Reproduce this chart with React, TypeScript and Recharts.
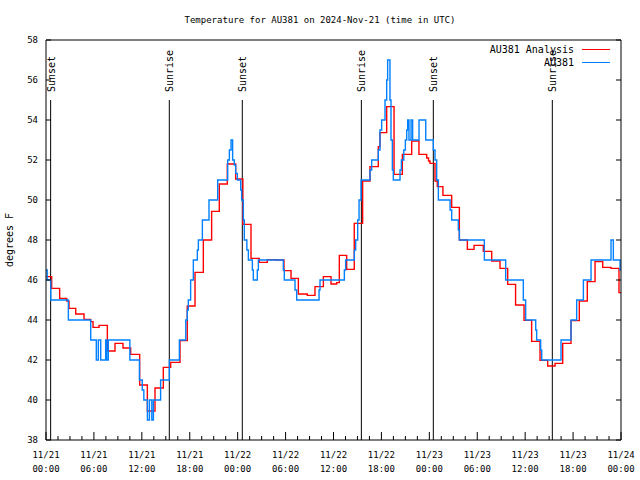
import React from 'react';
import { LineChart, Line, XAxis, YAxis, ReferenceLine, Legend } from 'recharts';

// hours since 2024-11-21 00:00 UTC, temperature in degrees F
const analysisSeries = [
  [0, 46.17], [0.71, 45.58], [1.71, 45.08], [2.6, 44.95], [2.88, 44.58], [3.72, 44.3], [4.76, 44.03],
  [5.59, 43.92], [5.89, 43.63], [6.64, 43.73], [7.68, 42.45], [8.64, 42.83], [9.64, 42.6], [10.6, 42.28],
  [11.73, 40.75], [12.69, 39.45], [13.65, 40.6], [14.69, 41.63], [15.61, 41.88], [16.78, 42.97],
  [17.69, 44.7], [18.66, 46.38], [19.7, 48.0], [20.74, 49.43], [21.7, 50.8], [22.7, 51.8], [23.75, 51.05],
  [24.65, 48.78], [25.67, 47.08], [26.71, 46.88], [27.71, 47.02], [28.76, 47.0], [29.8, 46.47],
  [30.68, 46.08], [31.6, 45.3], [32.72, 45.23], [33.68, 45.67], [34.73, 46.17], [35.69, 45.8],
  [36.4, 45.87], [36.73, 47.23], [37.65, 46.53], [38.6, 48.83], [39.65, 50.95], [40.57, 51.67],
  [41.61, 52.67], [41.82, 53.37], [42.66, 54.67], [43.58, 51.28], [44.62, 52.28], [45.79, 52.95],
  [46.7, 52.28], [47.67, 52.1], [47.9, 51.95], [48.08, 51.83], [48.71, 50.95], [49.0, 50.67],
  [49.7, 50.23], [50.8, 49.63], [51.76, 48.0], [52.76, 47.53], [53.6, 47.73], [54.76, 47.43],
  [55.81, 46.95], [56.85, 46.58], [57.81, 45.78], [58.8, 44.75], [59.86, 43.98], [60.81, 42.93],
  [61.86, 41.98], [62.82, 41.7], [63.74, 41.83], [64.7, 42.83], [65.74, 43.97], [66.78, 44.95],
  [67.78, 45.92], [68.75, 46.92], [69.71, 46.63], [70.75, 46.58], [71.75, 45.37], [72, 45.37],
];

const stationSeries = [
  [0, 46.5], [0.15, 46], [0.6, 45], [2.8, 44], [5.6, 43], [6.3, 42], [6.55, 43], [6.85, 42], [7.47, 43],
  [7.6, 42], [7.8, 43], [10.5, 42], [11.7, 41], [12.05, 40.5], [12.25, 40], [12.7, 39], [12.95, 40],
  [13.25, 39], [13.45, 40], [14.35, 41], [15.45, 42], [16.7, 43], [17.5, 44], [17.69, 44.5], [17.82, 45],
  [18.11, 46], [18.45, 47], [18.95, 47.5], [19.08, 48], [19.58, 49], [20.41, 50], [21.5, 51], [22.75, 52],
  [22.96, 52.5], [23.17, 53], [23.37, 52], [23.58, 51.75], [23.75, 51.33], [23.96, 51], [24.38, 50.5],
  [24.5, 50], [24.71, 49], [24.83, 48], [25.15, 47.5], [25.34, 47], [25.84, 46.5], [25.96, 46],
  [26.46, 46.5], [26.59, 47], [29.72, 46.5], [29.84, 46], [31.18, 45.5], [31.39, 45], [34.19, 45.5],
  [34.31, 46], [37.36, 46.5], [37.52, 47], [38.61, 47.5], [38.78, 48], [39.03, 49], [39.2, 50],
  [39.45, 51], [40.57, 51.5], [40.78, 52], [41.61, 52.5], [41.82, 53.5], [42.03, 54], [42.45, 55],
  [42.66, 56], [42.78, 57], [43.07, 55], [43.2, 53], [43.37, 51.5], [43.49, 51], [44.33, 51.5],
  [44.5, 52], [44.8, 52.5], [45.0, 53], [45.17, 53.5], [45.29, 54], [45.45, 53], [45.71, 54], [45.91, 53],
  [46.71, 54], [47.55, 53], [48.5, 52.5], [48.71, 52], [48.92, 51], [49.13, 50], [50.6, 49.5],
  [50.8, 49], [51.63, 48.5], [51.76, 48], [54.89, 47], [57.56, 46], [59.77, 45], [60.06, 44],
  [61.32, 43.5], [61.44, 43], [61.94, 42.5], [62.07, 42], [64.49, 43], [65.74, 44], [66.45, 45],
  [67.29, 46], [68.25, 47], [70.75, 48], [71.04, 47], [71.88, 46.5], [72, 46.5],
];

const seriesNames = ['AU381 Analysis', 'AU381'];

const eventHours = [0.58, 15.44, 24.58, 39.49, 48.5, 63.4];
const eventLabels = ['Sunset', 'Sunrise', 'Sunset', 'Sunrise', 'Sunset', 'Sunrise'];

const majorTicks = [0, 6, 12, 18, 24, 30, 36, 42, 48, 54, 60, 66, 72];
const tickDates = ['11/21', '11/21', '11/21', '11/21', '11/22', '11/22', '11/22', '11/22', '11/23', '11/23', '11/23', '11/23', '11/24'];
const tickTimes = ['00:00', '06:00', '12:00', '18:00', '00:00', '06:00', '12:00', '18:00', '00:00', '06:00', '12:00', '18:00', '00:00'];
const tempTicks = [38, 40, 42, 44, 46, 48, 50, 52, 54, 56, 58];

const FONT = '"DejaVu Sans Mono", monospace';

const analysisData = analysisSeries.map(([t, v]) => ({ t, v }));
const stationData = stationSeries.map(([t, v]) => ({ t, v }));
const xTicks = majorTicks.flatMap((t, i) => (i < majorTicks.length - 1 ? [t, t + 1.5, t + 3, t + 4.5] : [t]));

function BottomTick(props: any) {
  const { x, y, payload } = props;
  const i = majorTicks.indexOf(payload.value);
  const len = i >= 0 ? 8 : 4;
  return (
    <g>
      <line x1={x} x2={x} y1={y} y2={y - len} stroke="#000" />
      {i >= 0 && (
        <>
          <text x={x} y={y + 18} textAnchor="middle" fontFamily={FONT} fontSize={9} fill="#000">{tickDates[i]}</text>
          <text x={x} y={y + 32} textAnchor="middle" fontFamily={FONT} fontSize={9} fill="#000">{tickTimes[i]}</text>
        </>
      )}
    </g>
  );
}

function TopTick(props: any) {
  const { x, y, payload } = props;
  const len = majorTicks.includes(payload.value) ? 8 : 4;
  return <line x1={x} x2={x} y1={y} y2={y + len} stroke="#000" />;
}

function LeftTick(props: any) {
  const { x, y, payload } = props;
  return (
    <g>
      <line x1={x} x2={x + 5} y1={y} y2={y} stroke="#000" />
      <text x={x - 8} y={y} dy="0.35em" textAnchor="end" fontFamily={FONT} fontSize={9} fill="#000">{payload.value}</text>
    </g>
  );
}

function RightTick(props: any) {
  const { x, y } = props;
  return <line x1={x} x2={x - 5} y1={y} y2={y} stroke="#000" />;
}

function EventLabel(props: any) {
  const vb = props.viewBox || {};
  const x = vb.x ?? 0;
  const y = vb.y ?? 0;
  return (
    <text transform={`translate(${x + 4},${y - 8}) rotate(-90)`} textAnchor="start" fontFamily={FONT} fontSize={10} fill="#000">
      {props.text}
    </text>
  );
}

function LegendBox(props: any) {
  const items = [...(props.payload || [])].sort(
    (a: any, b: any) => seriesNames.indexOf(a.value) - seriesNames.indexOf(b.value),
  );
  return (
    <div style={{ fontFamily: FONT, fontSize: 10 }}>
      {items.map((item: any) => (
        <div key={item.value} style={{ display: 'flex', justifyContent: 'flex-end', alignItems: 'center', height: 13 }}>
          <span>{item.value}</span>
          <span style={{ display: 'inline-block', width: 28, height: 0, borderTop: `1.5px solid ${item.color}`, marginLeft: 8, marginRight: 2 }} />
        </div>
      ))}
    </div>
  );
}

export default function App() {
  return (
    <div style={{ position: 'absolute', left: 0, top: 0, width: 640, height: 480, background: '#fff' }}>
      <div style={{ position: 'absolute', left: 0, top: 14, width: 640, textAlign: 'center', fontFamily: FONT, fontSize: 9, lineHeight: '12px' }}>
        Temperature for AU381 on 2024-Nov-21 (time in UTC)
      </div>
      <div style={{ position: 'absolute', left: 10, top: 240, width: 0, height: 0 }}>
        <div style={{ position: 'absolute', transform: 'translate(-50%, -50%) rotate(-90deg)', whiteSpace: 'nowrap', fontFamily: FONT, fontSize: 10, lineHeight: '12px' }}>
          degrees F
        </div>
      </div>
      <LineChart width={640} height={480} margin={{ top: 30, right: 9, bottom: 0, left: 0 }}>
        <XAxis dataKey="t" type="number" domain={[0, 72]} ticks={xTicks} interval={0} tick={<BottomTick />}
          tickLine={false} tickSize={0} tickMargin={0} axisLine={{ stroke: '#000' }} height={40} allowDataOverflow />
        <XAxis xAxisId="top" orientation="top" type="number" domain={[0, 72]} ticks={xTicks} interval={0} tick={<TopTick />}
          tickLine={false} tickSize={0} tickMargin={0} axisLine={{ stroke: '#000' }} height={10} allowDataOverflow />
        <YAxis type="number" domain={[38, 58]} ticks={tempTicks} interval={0} tick={<LeftTick />}
          tickLine={false} tickSize={0} tickMargin={0} axisLine={{ stroke: '#000' }} width={46} allowDataOverflow />
        <YAxis yAxisId="right" orientation="right" type="number" domain={[38, 58]} ticks={tempTicks} interval={0} tick={<RightTick />}
          tickLine={false} tickSize={0} tickMargin={0} axisLine={{ stroke: '#000' }} width={10} allowDataOverflow />
        <Legend layout="vertical" align="center" verticalAlign="middle" content={<LegendBox />}
          wrapperStyle={{ position: 'absolute', left: 440, top: 43, width: 172 }} />
        {eventHours.map((t, i) => (
          <ReferenceLine key={i} segment={[{ x: t, y: 38 }, { x: t, y: 55 }]} stroke="#000" strokeWidth={1}
            ifOverflow="visible" label={<EventLabel text={eventLabels[i]} />} />
        ))}
        <Line data={analysisData} dataKey="v" name="AU381 Analysis" type="stepAfter" stroke="#ff0000" strokeWidth={1.4}
          dot={false} activeDot={false} isAnimationActive={false} />
        <Line data={stationData} dataKey="v" name="AU381" type="stepAfter" stroke="#0080ff" strokeWidth={1.4}
          dot={false} activeDot={false} isAnimationActive={false} />
      </LineChart>
    </div>
  );
}
